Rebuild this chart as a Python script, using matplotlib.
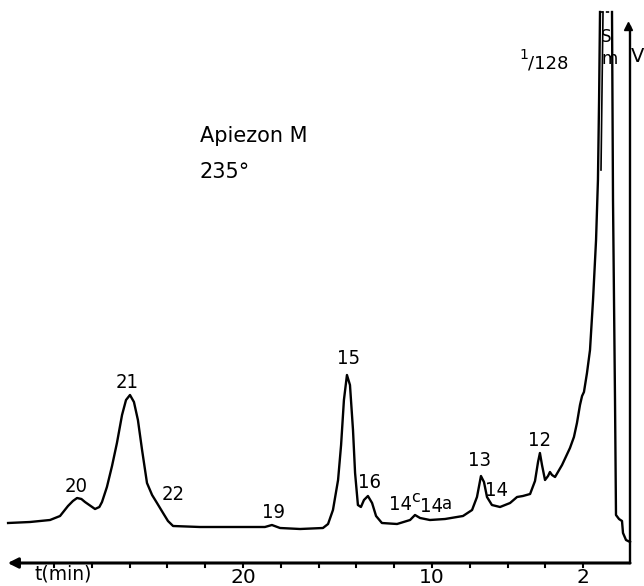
import matplotlib.pyplot as plt

# retention time (min) and detector signal (arbitrary units, axis line = 0)
trace_t = [32.43, 31.27, 30.21, 29.68, 29.26, 29.00, 28.78, 28.55, 28.36, 27.83,
           27.60, 27.46, 27.20, 26.93, 26.67, 26.40, 26.19, 25.98, 25.77, 25.56,
           25.34, 25.08, 24.81, 24.55, 24.23, 23.97, 23.70, 22.28, 18.84, 18.47,
           18.04, 16.98, 15.77, 15.50, 15.24, 14.97, 14.81, 14.66, 14.50, 14.34,
           14.18, 14.07, 13.92, 13.76, 13.60, 13.39, 13.17, 12.96, 12.65, 11.85,
           11.16, 10.90, 10.63, 10.11, 9.31, 8.36, 7.88, 7.62, 7.41, 7.25,
           7.09, 6.83, 6.40, 5.87, 5.50, 5.19, 4.81, 4.55, 4.39, 4.29,
           4.18, 4.02, 3.86, 3.76, 3.65, 3.49, 3.12, 2.70, 2.49, 2.33,
           2.17, 2.06, 1.96, 1.80, 1.64, 1.48, 1.32, 1.22, 1.16, 1.11]
trace_s = [40, 41, 43, 47, 57, 62, 65, 64, 61, 54,
           56, 61, 76, 97, 120, 148, 163, 168, 161, 143,
           113, 80, 68, 60, 50, 42, 37, 36, 36, 38,
           35, 34, 35, 39, 53, 83, 118, 163, 188, 178,
           133, 90, 58, 56, 63, 67, 60, 47, 40, 39,
           43, 48, 45, 43, 44, 47, 53, 66, 87, 81,
           66, 58, 56, 60, 66, 67, 69, 82, 101, 110,
           98, 83, 87, 91, 88, 86, 98, 115, 126, 140,
           158, 167, 171, 190, 213, 263, 323, 383, 463, 551]

# solvent peak (off scale) and its tail
solvent_t = [0.476, 0.423, 0.317, 0.265, 0.106, -0.053, -0.106, -0.265, -0.476]
solvent_s = [551, 363, 163, 48, 44, 42, 30, 23, 21]
inner_t = [0.952, 1.058]
inner_s = [551, 393]
cap_t = [1.11, 0.476]
injection_t = -0.476

peak_names = ["20", "21", "22", "19", "15", "16", "13", "14", "12"]
peak_t = [28.84, 26.14, 23.70, 18.41, 14.44, 13.33, 7.46, 6.61, 4.29]
peak_s = [77, 181, 68, 51, 205, 80, 102, 73, 123]

tick_times = list(range(2, 31, 2))
tick_labels = {20: "20", 10: "10", 2: "2"}

fig = plt.figure(figsize=(6.44, 5.86), dpi=100)
ax = fig.add_axes([0, 0, 1, 1])
ax.set_xlim(32.857, -1.217)
ax.set_ylim(-23, 563)
ax.axis("off")

lw = 1.7
ax.plot(trace_t, trace_s, color="black", lw=lw, solid_joinstyle="round")
ax.plot(solvent_t, solvent_s, color="black", lw=lw)
ax.plot(inner_t, inner_s, color="black", lw=1.2)
ax.plot(cap_t, [551, 551], color="black", lw=1.2, ls=(0, (2, 1.5)))
ax.plot([injection_t, injection_t], [0, 536], color="black", lw=lw)
ax.plot([injection_t + 0.1], [537], marker="^", color="black", ms=6)

# time axis with arrow pointing to longer times
ax.annotate("", xy=(32.45, 0), xytext=(injection_t, 0),
            arrowprops=dict(arrowstyle="-|>", lw=2.2, color="black", mutation_scale=15,
                            shrinkA=0, shrinkB=0))
for t in tick_times:
    ax.plot([t, t], [0, -4], color="black", lw=1.5)
    if t in tick_labels:
        ax.text(t, -20, tick_labels[t], ha="center", va="baseline", fontsize=14.5)
ax.text(29.5, -1, "t(min)", ha="center", va="top", fontsize=13.5)

# peak labels
lab = dict(ha="center", va="center", fontsize=14.5, fontstretch="condensed")
for name, t, s in zip(peak_names, peak_t, peak_s):
    ax.text(t, s, name, **lab)
ax.text(11.68, 59, "14", **lab)
ax.text(10.86, 65, "c", ha="center", va="center", fontsize=11.5)
ax.text(10.0, 57, "14", **lab)
ax.text(9.18, 59, "a", ha="center", va="center", fontsize=12)

ax.text(22.28, 427, "Apiezon M", ha="left", va="center", fontsize=15)
ax.text(22.28, 391, "235°", ha="left", va="center", fontsize=15)
ax.text(5.13, 508, "1", ha="center", va="center", fontsize=10)
ax.text(4.92, 499, "/128", ha="left", va="center", fontsize=13)
ax.text(0.79, 526, "S", ha="center", va="center", fontsize=12)
ax.text(0.58, 504, "m", ha="center", va="center", fontsize=12)
ax.text(-0.85, 506, "V", ha="center", va="center", fontsize=14)

fig.savefig("out.png", dpi=100)
